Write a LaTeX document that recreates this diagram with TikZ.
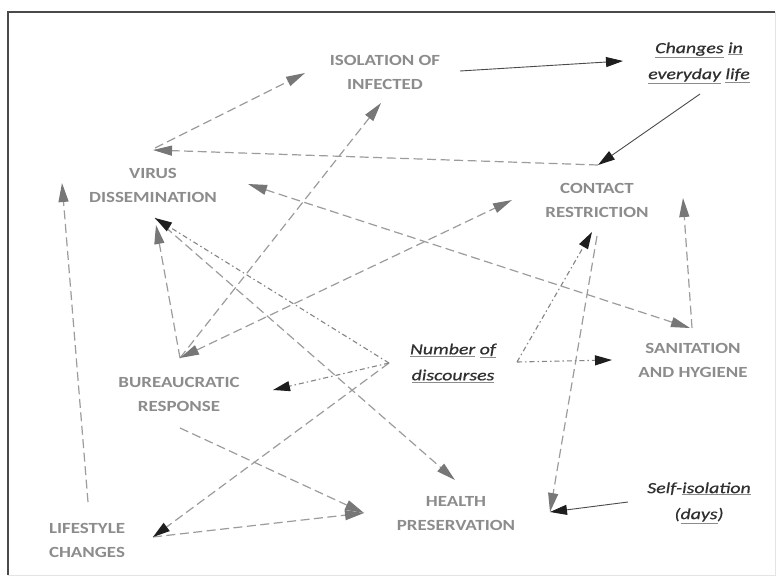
\documentclass[tikz,border=0pt]{standalone}
\usepackage{fontspec}
\setmainfont{Carlito}
\newfontfamily\labfont[FakeStretch=1.22]{Carlito}
\newfontfamily\itfont[FakeStretch=1.28,FakeBold=0.6]{Carlito}
\usetikzlibrary{arrows.meta}
\definecolor{labgray}{HTML}{8C8C8C}
\definecolor{italdark}{HTML}{303030}
\definecolor{linegray}{HTML}{9C9C9C}
\definecolor{headgray}{HTML}{777777}
\definecolor{headdark}{HTML}{1E1E1E}
\definecolor{framedark}{HTML}{4A4A4A}
\definecolor{framelight}{HTML}{E4E4E4}
\newcommand{\ulw}[1]{{\color{labgray}\underline{\textcolor{italdark}{#1}}}}
\tikzset{
  caplabel/.style={font=\labfont\bfseries\fontsize{15.5}{24}\selectfont, text=labgray, align=center, inner sep=0pt},
  itlabel/.style={font=\itfont\itshape\fontsize{15.5}{26}\selectfont, text=italdark, align=center, inner sep=0pt},
  gh/.style={-{Triangle[length=19pt,width=10pt,fill=headgray,color=headgray]}},
  bh/.style={-{Triangle[length=17pt,width=10pt,fill=headdark,color=headdark]}},
  ghb/.style={{Triangle[length=19pt,width=10pt,fill=headgray,color=headgray]}-{Triangle[length=19pt,width=10pt,fill=headgray,color=headgray]}},
  dline/.style={draw=linegray, line width=1.2pt, dash pattern=on 9pt off 4.5pt},
  ddline/.style={draw=linegray!85!black, line width=1.1pt, dash pattern=on 5pt off 3pt on 1.5pt off 3pt},
  sline/.style={draw=headdark!80, line width=0.9pt}
}
\begin{document}
\begin{tikzpicture}[x=1pt,y=-1pt]
\useasboundingbox (0,0) rectangle (779,581);
\fill[white] (0,0) rectangle (779,581);
% frame
\draw[framelight, line width=1pt] (775,12) -- (775,575) -- (8,575);
\draw[framedark, line width=2.5pt] (8,575) -- (8,12) -- (775,12);

% nodes
\node[caplabel] (iso) at (385,72) {ISOLATION OF\\INFECTED};
\node[itlabel] (chg) at (699,63) {\ulw{Changes} \ulw{in}\\\ulw{everyday} \ulw{life}};
\node[caplabel] (vd) at (153,185) {VIRUS\\DISSEMINATION};
\node[caplabel] (cr) at (597,200) {CONTACT\\RESTRICTION};
\node[caplabel] (sh) at (693,360) {SANITATION\\AND HYGIENE};
\node[itlabel] (nd) at (453,363) {\ulw{Number} \ulw{of}\\\ulw{discourses}};
\node[caplabel] (br) at (179,394) {BUREAUCRATIC\\RESPONSE};
\node[caplabel] (lc) at (87,540) {LIFESTYLE\\CHANGES};
\node[caplabel] (hp) at (456,514) {HEALTH\\PRESERVATION};
\node[itlabel] (si) at (699,503) {Self-\ulw{isolation}\\(\ulw{days})};

% connector end points
\coordinate (vdA) at (155,148);
\coordinate (vdB) at (153,150);
\coordinate (vdC) at (248,184);
\coordinate (vdD) at (155,218);
\coordinate (vdE) at (156,225);
\coordinate (vdF) at (62,183);
\coordinate (isoA) at (305,73);
\coordinate (isoB) at (460,71);
\coordinate (isoC) at (381,103);
\coordinate (chgA) at (623,61);
\coordinate (chgB) at (700,94);
\coordinate (crA) at (598,165);
\coordinate (crB) at (683,198);
\coordinate (crC) at (592,232);
\coordinate (crD) at (597,236);
\coordinate (crE) at (512,200);
\coordinate (shA) at (690,328);
\coordinate (shB) at (692,328);
\coordinate (shC) at (612,360);
\coordinate (ndR) at (517,362);
\coordinate (ndL) at (389,363);
\coordinate (brA) at (273,390);
\coordinate (brT) at (180,358);
\coordinate (brB) at (180,428);
\coordinate (hpA) at (550,512);
\coordinate (hpB) at (455,480);
\coordinate (hpC) at (364,513);
\coordinate (siA) at (628,502);
\coordinate (lcA) at (153,537);
\coordinate (lcB) at (88,502);

% dashed connectors
\draw[dline, gh] (vdA) -- (isoA);
\draw[dline, gh] (crA) -- (vdB);
\draw[dline, ghb] (vdC) -- (shA);
\draw[dline, gh] (shB) -- (crB);
\draw[dline, gh] (crD) -- (hpA);
\draw[dline, gh] (vdD) -- (hpB);
\draw[dline, gh] (brT) -- (vdE);
\draw[dline, gh] (brT) -- (isoC);
\draw[dline, ghb] (brT) -- (crE);
\draw[dline, gh] (brB) -- (hpC);
\draw[dline, gh] (lcA) -- (hpC);
\draw[dline, gh] (lcB) -- (vdF);
\draw[dline, bh] (ndL) -- (lcA);

% dash-dot connectors
\draw[ddline, bh] (ndR) -- (crC);
\draw[ddline, bh] (ndR) -- (shC);
\draw[ddline, bh] (ndL) -- (brA);
\draw[ddline, bh] (ndL) -- (vdD);

% solid connectors
\draw[sline, bh] (isoB) -- (chgA);
\draw[sline, bh] (chgB) -- (crA);
\draw[sline, bh] (siA) -- (hpA);
\end{tikzpicture}
\end{document}
